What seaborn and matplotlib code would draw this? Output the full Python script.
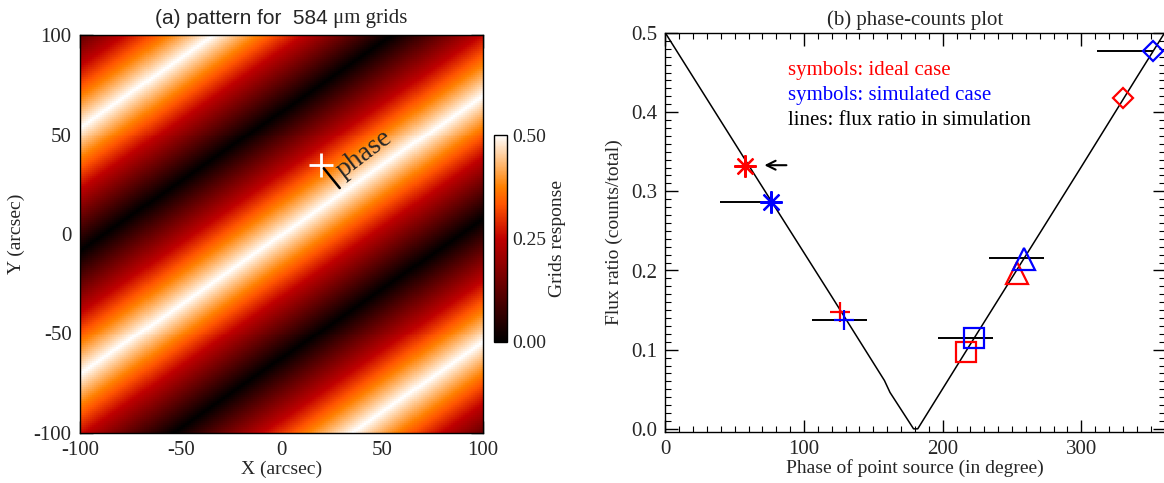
import matplotlib
matplotlib.use("Agg")
import matplotlib.pyplot as plt
import numpy as np
import seaborn as sns

# ---- (a) grid pattern: stripe geometry ----
stripe_slope = 0.7       # dY/dX of the stripes
stripe_period = 124.0    # arcsec, measured along Y
stripe_offset = -0.5     # Y of the white stripe at X = 0
resp_phase = [0, 180, 360]          # phase (deg) -> grid response
resp_value = [0.5, 0.0, 0.5]
source_x, source_y = 19.8, 34.7     # white cross
phase_bar_x = [21.0, 28.9]
phase_bar_y = [33.0, 23.1]
xy_ticks = [-100, -50, 0, 50, 100]
cbar_ticks = [0.0, 0.25, 0.5]

# ---- (b) phase-counts plot ----
curve_phase = [0, 60, 120, 158, 162, 179, 182, 220, 260, 300, 340, 360]
curve_flux = [0.500, 0.333, 0.167, 0.061, 0.046, 0.0, 0.0, 0.107, 0.219, 0.331, 0.444, 0.500]

case_markers = [(8, 2, 0), "+", "s", "^", "D"]
case_msize = [16, 15, 15, 16, 10.5]
ideal_phase = [57.4, 125.8, 216.5, 253.3, 330.1]
ideal_flux = [0.332, 0.147, 0.097, 0.197, 0.418]
sim_phase = [76.1, 129.0, 222.5, 258.5, 351.8]
sim_flux = [0.286, 0.137, 0.115, 0.214, 0.477]
bar_start = [39.4, 105.5, 196.6, 233.3, 311.0]
bar_end = [76.9, 145.1, 236.2, 273.0, 351.6]
bar_flux = [0.286, 0.137, 0.115, 0.216, 0.477]
arrow_start = (89.3, 0.333)
arrow_end = (69.4, 0.333)

sns.set_style("ticks")
plt.rcParams["font.family"] = ["Liberation Serif", "DejaVu Serif"]

fig = plt.figure(figsize=(11.64, 4.83), dpi=100)
W, H = 1164.0, 483.0
ax1 = fig.add_axes([80 / W, (H - 433) / H, 403 / W, 398 / H])
cax = fig.add_axes([494 / W, (H - 342) / H, 13 / W, 207 / H])
ax2 = fig.add_axes([665.4 / W, (H - 432) / H, (W - 665.4 + 0.5) / W, 399 / H])

# pattern image, one cell per arcsec, top row = +Y
xs = np.arange(-99.5, 100, 1.0)
ys = xs[::-1]
XX, YY = np.meshgrid(xs, ys)
ph = np.mod(360 * (YY - stripe_slope * XX - stripe_offset) / stripe_period, 360)
resp = np.interp(ph, resp_phase, resp_value)

sns.heatmap(resp, ax=ax1, cmap="gist_heat", vmin=0, vmax=0.5, cbar_ax=cax,
            cbar_kws=dict(ticks=cbar_ticks, format="%.2f"),
            xticklabels=False, yticklabels=False, rasterized=True)


def px(x):
    return x + 100


def py(y):
    return 100 - y


ax1.set_xticks([px(v) for v in xy_ticks])
ax1.set_xticklabels([str(v) for v in xy_ticks])
ax1.set_yticks([py(v) for v in xy_ticks])
ax1.set_yticklabels([str(v) for v in xy_ticks], rotation=0)
ax1.set_xticks([px(v) for v in range(-100, 101, 10)], minor=True)
ax1.set_yticks([py(v) for v in range(-100, 101, 10)], minor=True)
ax1.set_xlim(0, 200)
ax1.set_ylim(200, 0)
for sp in ax1.spines.values():
    sp.set_visible(True)
    sp.set_linewidth(1)
    sp.set_color("black")
ax1.tick_params(which="both", direction="in", top=True, right=True,
                labelsize=15, color="black", pad=6)
ax1.tick_params(which="major", length=9, width=1)
ax1.tick_params(which="minor", length=4.5, width=0.8)
ax1.set_xlabel("X (arcsec)", fontsize=14, labelpad=0)
ax1.set_ylabel("Y (arcsec)", fontsize=14, labelpad=6)

ax1.plot(px(source_x), py(source_y), marker="+", ms=17, mew=2, color="white")
ax1.plot([px(v) for v in phase_bar_x], [py(v) for v in phase_bar_y],
         color="black", lw=1.8)
ax1.text(px(41.0), py(40.0), "phase", fontsize=20, rotation=37,
         ha="center", va="center", rotation_mode="anchor")

cax.tick_params(length=0, labelsize=14, pad=4)
cax.set_ylabel("Grids response", fontsize=14, labelpad=2)
cb = ax1.collections[0].colorbar
cb.outline.set_linewidth(1)
cb.outline.set_edgecolor("black")

fig.text(328 / W, 1 - 18 / H, "(a) pattern for  584", ha="right", va="center",
         fontsize=15, family=["Liberation Sans", "DejaVu Sans"])
fig.text(333 / W, 1 - 18 / H, "\u03bcm grids", ha="left", va="center", fontsize=15)

# right panel
sns.lineplot(x=curve_phase, y=curve_flux, ax=ax2, color="black", lw=1.1)
ax2.hlines(bar_flux, bar_start, bar_end, color="black", lw=1.4)
for i in range(len(case_markers)):
    m = case_markers[i]
    ax2.plot(ideal_phase[i], ideal_flux[i], marker=m, ms=case_msize[i], mew=1.6,
             mfc="none", mec="red", ls="none")
    ax2.plot(sim_phase[i], sim_flux[i], marker=m, ms=case_msize[i], mew=1.6,
             mfc="none", mec="blue", ls="none")
ax2.annotate("", xy=arrow_end, xytext=arrow_start,
             arrowprops=dict(arrowstyle="->", color="black", lw=1.5, mutation_scale=16))

ax2.text(88.7, 0.453, "symbols: ideal case", color="red", fontsize=15, va="center")
ax2.text(88.7, 0.421, "symbols: simulated case", color="blue", fontsize=15, va="center")
ax2.text(88.7, 0.389, "lines: flux ratio in simulation", color="black", fontsize=15, va="center")

ax2.set_xlim(0, 360)
ax2.set_ylim(-0.004, 0.5)
ax2.set_xticks([0, 100, 200, 300])
ax2.set_xticks(np.arange(0, 361, 10), minor=True)
ax2.set_yticks([0.0, 0.1, 0.2, 0.3, 0.4, 0.5])
ax2.set_yticklabels(["0.0", "0.1", "0.2", "0.3", "0.4", "0.5"])
ax2.set_yticks(np.arange(0, 0.501, 0.01), minor=True)
for sp in ax2.spines.values():
    sp.set_linewidth(1)
    sp.set_color("black")
ax2.tick_params(which="both", direction="in", top=True, right=True,
                labelsize=15, color="black", pad=6)
ax2.tick_params(which="major", length=9, width=1)
ax2.tick_params(which="minor", length=4.5, width=0.8)
ax2.set_xlabel("Phase of point source (in degree)", fontsize=14, labelpad=0)
ax2.set_ylabel("Flux ratio (counts/total)", fontsize=14, labelpad=6)
ax2.set_title("(b) phase-counts plot", fontsize=15, pad=6)

fig.savefig("out.png", dpi=100)
